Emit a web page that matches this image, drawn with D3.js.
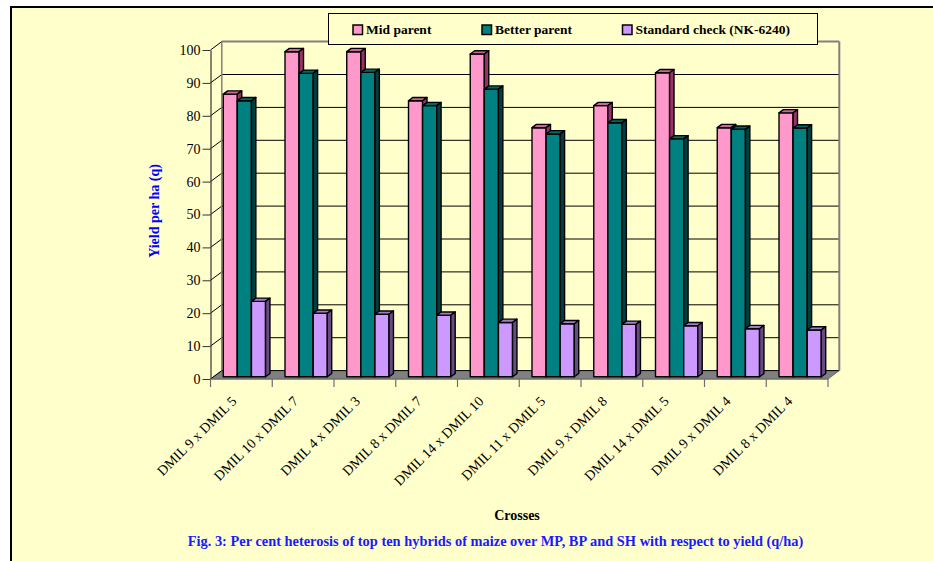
<!DOCTYPE html>
<html>
<head>
<meta charset="utf-8">
<script src="https://cdn.jsdelivr.net/npm/d3@7"></script>
<style>
  body { margin: 0; background: #fff; }
  text { font-family: "Liberation Serif", "Times New Roman", serif; }
</style>
</head>
<body>
<div id="vis"></div>
<script>
// Data
const categories = ["DMIL 9 x DMIL 5", "DMIL 10 x DMIL 7", "DMIL 4 x DMIL 3", "DMIL 8 x DMIL 7",
    "DMIL 14 x DMIL 10", "DMIL 11 x DMIL 5", "DMIL 9 x DMIL 8", "DMIL 14 x DMIL 5",
    "DMIL 9 x DMIL 4", "DMIL 8 x DMIL 4"];
const seriesNames = ["Mid parent", "Better parent", "Standard check (NK-6240)"];
const midParent = [85.9, 98.8, 98.8, 83.9, 98.1, 75.7, 82.4, 92.4, 75.7, 80.2];
const betterParent = [83.9, 92.2, 92.5, 82.4, 87.4, 73.8, 77.2, 72.3, 75.2, 75.6];
const standardCheck = [22.9, 19.3, 19.0, 18.7, 16.5, 16.1, 15.9, 15.5, 14.6, 14.2];
const yTicks = [0, 10, 20, 30, 40, 50, 60, 70, 80, 90, 100];

const width = 933, height = 561;
const colors = [
    { front: "#FF99CC", top: "#CC6699", side: "#993366" },
    { front: "#008080", top: "#006666", side: "#003f3f" },
    { front: "#CC99FF", top: "#A37ACC", side: "#664C80" }
];
const seriesValues = [midParent, betterParent, standardCheck];

// depth offsets of the 3D box
const DX = 11.3, DY = 8.4;

const svg = d3.select("#vis").append("svg")
    .attr("width", width)
    .attr("height", height);

// page + frame
svg.append("rect").attr("width", width).attr("height", height).attr("fill", "#fff");
svg.append("rect")
    .attr("x", 11).attr("y", 7)
    .attr("width", width).attr("height", height)
    .attr("fill", "#FFFFCC")
    .attr("stroke", "#000")
    .attr("stroke-width", 2);

// scales
const y = d3.scaleLinear().domain([0, 100]).range([379, 50]);
const x = d3.scaleBand().domain(categories).range([210.5, 828]);
const xs = d3.scaleBand().domain(seriesNames).range([9.7, 52]);

function proj(xf, v, z) {
    return [xf + z * DX, y(v) - z * DY];
}
const line = d3.line();

const x0 = x.range()[0], x1 = x.range()[1];

// floor
svg.append("path")
    .attr("d", line([proj(x0, 0, 0), proj(x1, 0, 0), proj(x1, 0, 1), proj(x0, 0, 1)]) + "Z")
    .attr("fill", "#808080")
    .attr("stroke", "#6e6e6e")
    .attr("stroke-width", 1);

// back wall gridlines
const grid = svg.append("g");
grid.selectAll("line.back")
    .data(yTicks)
    .enter().append("line")
    .attr("class", "back")
    .attr("x1", x0 + DX).attr("x2", x1 + DX)
    .attr("y1", d => y(d) - DY).attr("y2", d => y(d) - DY)
    .attr("stroke", d => d === 100 ? "#808080" : "#000")
    .attr("stroke-width", d => d === 100 ? 2 : 1);

// side wall diagonals
grid.selectAll("line.side")
    .data(yTicks)
    .enter().append("line")
    .attr("class", "side")
    .attr("x1", x0).attr("x2", x0 + DX)
    .attr("y1", d => y(d)).attr("y2", d => y(d) - DY)
    .attr("stroke", "#000")
    .attr("stroke-width", 1);

// wall edges
grid.append("line")
    .attr("x1", x0 + DX).attr("x2", x0 + DX)
    .attr("y1", y(100) - DY).attr("y2", y(0) - DY)
    .attr("stroke", "#808080").attr("stroke-width", 1.5);
grid.append("line")
    .attr("x1", x1 + DX).attr("x2", x1 + DX)
    .attr("y1", y(100) - DY).attr("y2", y(0) - DY)
    .attr("stroke", "#808080").attr("stroke-width", 2);

// bars
const z0 = 0.27, z1 = 0.66;
categories.forEach((c, i) => {
    seriesNames.forEach((s, j) => {
        const v = seriesValues[j][i];
        const l = x(c) + xs(s), r = l + xs.bandwidth();
        const col = colors[j];
        const g = svg.append("g").attr("class", "bar");
        // front
        g.append("path")
            .attr("d", line([proj(l, 0, z0), proj(r, 0, z0), proj(r, v, z0), proj(l, v, z0)]) + "Z")
            .attr("fill", col.front);
        // top
        g.append("path")
            .attr("d", line([proj(l, v, z0), proj(r, v, z0), proj(r, v, z1), proj(l, v, z1)]) + "Z")
            .attr("fill", col.top);
        // side
        g.append("path")
            .attr("d", line([proj(r, 0, z0), proj(r, 0, z1), proj(r, v, z1), proj(r, v, z0)]) + "Z")
            .attr("fill", col.side);
        g.selectAll("path")
            .attr("stroke", "#000")
            .attr("stroke-width", 1.4)
            .attr("stroke-linejoin", "round");
    });
});

// y axis
const yAxis = svg.append("g")
    .attr("transform", "translate(" + x0 + ",0)")
    .call(d3.axisLeft(y).tickValues(yTicks).tickSize(8).tickPadding(2).tickSizeOuter(0));
yAxis.select(".domain").attr("stroke", "#333").attr("stroke-width", 1.2);
yAxis.selectAll(".tick line").attr("stroke", "#333");
yAxis.selectAll(".tick text")
    .attr("fill", "#000")
    .style("font-size", "14px")
    .style("font-family", "Liberation Serif");

// x axis baseline + category ticks
svg.append("line")
    .attr("x1", x0).attr("x2", x1)
    .attr("y1", y(0)).attr("y2", y(0))
    .attr("stroke", "#6e6e6e").attr("stroke-width", 1.2);
svg.selectAll("line.xtick")
    .data(categories.map(c => x(c)).concat([x1]))
    .enter().append("line")
    .attr("class", "xtick")
    .attr("x1", d => d).attr("x2", d => d)
    .attr("y1", y(0)).attr("y2", y(0) + 8)
    .attr("stroke", "#6e6e6e").attr("stroke-width", 1.2);

svg.selectAll("text.xlab")
    .data(categories)
    .enter().append("text")
    .attr("class", "xlab")
    .attr("text-anchor", "end")
    .attr("transform", d => "translate(" + (x(d) + x.bandwidth() / 2 - 4) + "," + 402 + ")rotate(-45)")
    .style("font-size", "14px")
    .text(d => d);

// axis titles
svg.append("text")
    .attr("transform", "translate(159,211)rotate(-90)")
    .attr("text-anchor", "middle")
    .attr("fill", "#0000FF")
    .style("font-weight", "bold")
    .style("font-size", "14px")
    .text("Yield per ha (q)");

svg.append("text")
    .attr("x", 517).attr("y", 520)
    .attr("text-anchor", "middle")
    .style("font-weight", "bold")
    .style("font-size", "14px")
    .text("Crosses");

svg.append("text")
    .attr("x", 495.5).attr("y", 546)
    .attr("text-anchor", "middle")
    .attr("fill", "#1a1aff")
    .style("font-weight", "bold")
    .style("font-size", "14.4px")
    .text("Fig. 3: Per cent heterosis of top ten hybrids of maize over MP, BP and SH with respect to yield (q/ha)");

// legend
const legend = svg.append("g");
legend.append("rect")
    .attr("x", 328.5).attr("y", 13.5)
    .attr("width", 489).attr("height", 31)
    .attr("fill", "#FFFFCC")
    .attr("stroke", "#000")
    .attr("stroke-width", 1);
const legendX = [353, 482, 622.5];
const item = legend.selectAll("g.item")
    .data(seriesNames)
    .enter().append("g")
    .attr("class", "item")
    .attr("transform", (d, i) => "translate(" + legendX[i] + ",25)");
item.append("rect")
    .attr("width", 9.5).attr("height", 9.5)
    .attr("fill", (d, i) => colors[i].front)
    .attr("stroke", "#000")
    .attr("stroke-width", 1.5);
item.append("text")
    .attr("x", 13).attr("y", 9)
    .style("font-weight", "bold")
    .style("font-size", "13.5px")
    .text(d => d);
</script>
</body>
</html>
